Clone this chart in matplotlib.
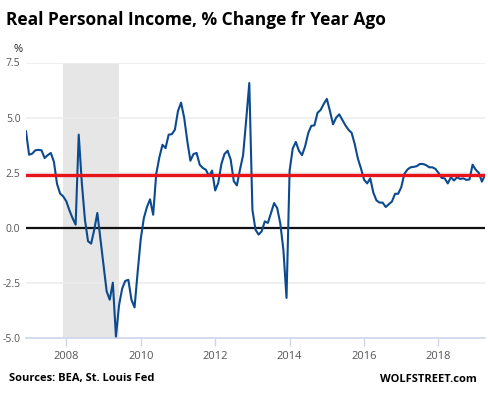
import numpy as np
import matplotlib
matplotlib.use("Agg")
import matplotlib.pyplot as plt

# monthly % change from a year ago, Dec 2006 .. Apr 2019
start_year, start_month = 2006, 12
pct_change = [
    4.38, 3.32, 3.37, 3.52, 3.54, 3.52, 3.17, 3.30, 3.40, 3.00, 2.00, 1.56,   # Dec06-Nov07
    1.43, 1.21, 0.80, 0.45, 0.15, 4.23, 2.04, 0.38, -0.60, -0.71, -0.08, 0.68,  # Dec07-Nov08
    -0.50, -1.66, -2.87, -3.25, -2.48, -4.92, -3.50, -2.75, -2.40, -2.35, -3.25, -3.60,  # Dec08-Nov09
    -2.00, -0.50, 0.45, 0.95, 1.30, 0.60, 2.46, 3.20, 3.77, 3.62, 4.23, 4.25,  # Dec09-Nov10
    4.45, 5.30, 5.68, 5.00, 3.95, 3.05, 3.35, 3.40, 2.87, 2.72, 2.64, 2.35,   # Dec10-Nov11
    2.60, 1.70, 2.05, 2.90, 3.35, 3.50, 3.10, 2.12, 1.93, 2.65, 3.30, 4.90,   # Dec11-Nov12
    6.57, 0.83, -0.08, -0.30, -0.15, 0.30, 0.23, 0.68, 1.13, 0.90, 0.20, -1.00,  # Dec12-Nov13
    -3.17, 2.60, 3.60, 3.90, 3.50, 3.30, 3.70, 4.30, 4.63, 4.65, 5.22, 5.35,  # Dec13-Nov14
    5.62, 5.85, 5.30, 4.70, 5.00, 5.15, 4.90, 4.65, 4.45, 4.31, 3.80, 3.15,   # Dec14-Nov15
    2.70, 2.19, 2.02, 2.25, 1.60, 1.25, 1.15, 1.15, 0.95, 1.08, 1.20, 1.55,   # Dec15-Nov16
    1.55, 1.85, 2.45, 2.65, 2.75, 2.77, 2.80, 2.90, 2.90, 2.85, 2.75, 2.75,   # Dec16-Nov17
    2.68, 2.50, 2.27, 2.25, 2.02, 2.30, 2.15, 2.30, 2.22, 2.25, 2.18, 2.20,   # Dec17-Nov18
    2.87, 2.64, 2.50, 2.10, 2.40,                                             # Dec18-Apr19
]
average = 2.4
recession = (2007 + 11 / 12, 2009 + 5 / 12)   # Dec 2007 - Jun 2009
year_ticks = [2008, 2010, 2012, 2014, 2016, 2018]
y_ticks = [-5.0, -2.5, 0.0, 2.5, 5.0, 7.5]

x = start_year + (start_month - 1) / 12 + np.arange(len(pct_change)) / 12

plt.rcParams['font.family'] = ['Open Sans', 'DejaVu Sans']

fig = plt.figure(figsize=(4.88, 3.94), dpi=100)
ax = fig.add_axes([26 / 488, 1 - 338.3 / 394, 459 / 488, 275.8 / 394])

ax.axvspan(*recession, color='#e6e6e6', lw=0, zorder=0)
for t in y_ticks[1:]:
    ax.axhline(t, color='#ececec', lw=1.1, zorder=0.5)
ax.axhline(0, color='#111111', lw=1.6, zorder=2)
ax.plot(x, pct_change, color='#0b4a8f', lw=1.5, zorder=3, solid_joinstyle='round')
ax.axhline(average, color='#e8141c', lw=2.4, zorder=4)

ax.set_xlim(x[0], x[-1])
ax.set_ylim(-5, 7.5)
ax.set_xticks(year_ticks)
ax.set_xticklabels([str(y) for y in year_ticks])
ax.set_yticks(y_ticks)
ax.set_yticklabels([f"{t:.1f}" for t in y_ticks])

for s in ['top', 'right', 'left']:
    ax.spines[s].set_visible(False)
ax.spines['bottom'].set_color('#ccd6eb')
ax.spines['bottom'].set_linewidth(1.2)
ax.tick_params(axis='x', colors='#ccd6eb', length=6, width=1, pad=3,
               labelcolor='#555555', labelsize=8)
ax.tick_params(axis='y', length=0, pad=4, labelcolor='#555555', labelsize=7.5)

fig.text(6 / 488, 1 - 20 / 394, "Real Personal Income, % Change fr Year Ago",
         fontsize=12.5, fontweight='bold', color='black', va='center', ha='left')
fig.text(18 / 488, 1 - 49 / 394, "%", fontsize=8, color='#222222', va='center', ha='center')
fig.text(9 / 488, 1 - 379 / 394, "Sources: BEA, St. Louis Fed",
         fontsize=8, fontweight='bold', color='black', va='center', ha='left')
fig.text(477 / 488, 1 - 380 / 394, "WOLFSTREET.com",
         fontsize=8, fontweight='bold', color='black', va='center', ha='right')

fig.savefig("out.png", dpi=100, facecolor='white')
